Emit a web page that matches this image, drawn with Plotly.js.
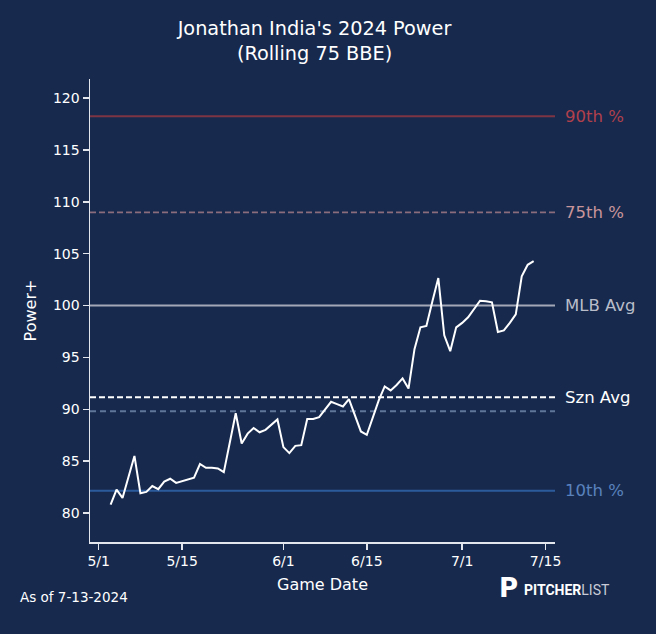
<!DOCTYPE html>
<html>
<head>
<meta charset="utf-8">
<script src="https://cdn.plot.ly/plotly-3.0.1.min.js"></script>
<style>
html,body{margin:0;padding:0;background:#172a4e;}
#chart{width:656px;height:634px;}
</style>
</head>
<body>
<div id="chart"></div>
<script>
// ---- data ----
var gameDates = ['2024-05-03','2024-05-04','2024-05-05','2024-05-07','2024-05-08','2024-05-09','2024-05-10','2024-05-11','2024-05-12','2024-05-13','2024-05-14','2024-05-17','2024-05-18','2024-05-19','2024-05-20','2024-05-21','2024-05-22','2024-05-24','2024-05-25','2024-05-26','2024-05-27','2024-05-28','2024-05-29','2024-05-30','2024-05-31','2024-06-01','2024-06-02','2024-06-03','2024-06-04','2024-06-05','2024-06-06','2024-06-07','2024-06-08','2024-06-09','2024-06-10','2024-06-11','2024-06-12','2024-06-13','2024-06-14','2024-06-15','2024-06-16','2024-06-17','2024-06-18','2024-06-19','2024-06-20','2024-06-21','2024-06-22','2024-06-23','2024-06-24','2024-06-25','2024-06-26','2024-06-27','2024-06-28','2024-06-29','2024-06-30','2024-07-01','2024-07-02','2024-07-03','2024-07-04','2024-07-05','2024-07-06','2024-07-07','2024-07-08','2024-07-09','2024-07-10','2024-07-11','2024-07-12','2024-07-13'];
var powerPlus = [80.8,82.25,81.45,85.5,81.9,82.03,82.6,82.3,83.03,83.3,82.9,83.4,84.72,84.35,84.35,84.3,83.93,89.62,86.7,87.65,88.2,87.78,88.02,88.5,89.02,86.35,85.77,86.47,86.54,89.06,89.06,89.24,89.95,90.72,90.5,90.27,90.97,89.47,87.86,87.54,89.2,90.85,92.2,91.82,92.34,92.98,92.0,95.8,97.9,98.04,100.4,102.65,97.13,95.6,97.9,98.33,98.87,99.68,100.47,100.42,100.32,97.46,97.6,98.33,99.15,102.83,103.93,104.28];

var refLabels = ['90th %','75th %','MLB Avg','Szn Avg','','10th %'];
var refValues = [118.26, 108.99, 100.0, 91.15, 89.8, 82.15];
var refLineColors = ['#7e3443','#8a6c7c','#a4a8b6','#ffffff','#5f7699','#2c5b9c'];
var refTextColors = ['#b0404b','#c9959a','#b9bdc9','#ffffff','#ffffff','#5a82bd'];
var refDash = ['solid','6px,3px','solid','6px,3px','6px,4px','solid'];
var refWidth = [2,1.7,2,2,2,2];

var tickDates = ['2024-05-01','2024-05-15','2024-06-01','2024-06-15','2024-07-01','2024-07-15'];
var tickLabels = ['5/1','5/15','6/1','6/15','7/1','7/15'];
var yTicks = [80,85,90,95,100,105,110,115,120];

// ---- chart ----
var font = 'DejaVu Sans, sans-serif';
var shapes = [];
var annotations = [];
for (var i = 0; i < refValues.length; i++) {
  shapes.push({type:'line', xref:'paper', yref:'y', x0:0, x1:1, y0:refValues[i], y1:refValues[i],
    line:{color:refLineColors[i], width:refWidth[i], dash:refDash[i]}, layer:'below'});
  if (refLabels[i]) {
    annotations.push({xref:'paper', yref:'y', x:1, y:refValues[i], xanchor:'left', yanchor:'middle',
      xshift:8, text:refLabels[i], showarrow:false, font:{family:font, size:16.5, color:refTextColors[i]}});
  }
}
annotations.push({xref:'paper', yref:'paper', x:-0.155, y:-0.119, xanchor:'left', yanchor:'middle',
  text:'As of 7-13-2024', showarrow:false, font:{family:font, size:13.5, color:'#ffffff'}});
annotations.push({xref:'paper', yref:'paper', x:0.875, y:-0.099, xanchor:'left', yanchor:'middle',
  text:'<b>P</b>', showarrow:false, font:{family:'DejaVu Sans, sans-serif', size:26, color:'#ffffff'}});
annotations.push({xref:'paper', yref:'paper', x:0.928, y:-0.104, xanchor:'left', yanchor:'middle',
  text:'<b>PITCHER</b><span style="color:#c9ccd6">LIST</span>', showarrow:false, font:{family:'Roboto, sans-serif', size:14, color:'#ffffff'}});

var trace = {
  x: gameDates, y: powerPlus, type:'scatter', mode:'lines',
  line:{color:'#ffffff', width:2}, hoverinfo:'skip'
};

var layout = {
  width:656, height:634,
  paper_bgcolor:'#172a4e', plot_bgcolor:'#172a4e',
  margin:{l:90, r:101, t:79, b:92},
  showlegend:false,
  title:{text:"Jonathan India's 2024 Power<br>(Rolling 75 BBE)", x:0.4795, xanchor:'center', y:0.945, yanchor:'top',
    font:{family:font, size:19.3, color:'#ffffff'}},
  xaxis:{type:'date', range:['2024-04-29 13:00','2024-07-16 14:00'],
    tickmode:'array', tickvals:tickDates, ticktext:tickLabels,
    showgrid:false, zeroline:false, showline:true, linecolor:'#e4e6ee', linewidth:1.5,
    ticks:'outside', ticklen:6, tickwidth:1.5, tickcolor:'#e4e6ee',
    tickfont:{family:font, size:14, color:'#ffffff'},
    title:{text:'Game Date', font:{family:font, size:16, color:'#ffffff'}, standoff:10}},
  yaxis:{range:[77.2,121.85], tickmode:'array', tickvals:yTicks,
    showgrid:false, zeroline:false, showline:true, linecolor:'#e4e6ee', linewidth:1.5,
    ticks:'outside', ticklen:6, tickwidth:1.5, tickcolor:'#e4e6ee',
    tickfont:{family:font, size:14, color:'#ffffff'},
    title:{text:'Power+', font:{family:font, size:16, color:'#ffffff'}, standoff:12}},
  shapes:shapes, annotations:annotations
};

Plotly.newPlot('chart', [trace], layout, {displayModeBar:false, staticPlot:true});
</script>
</body>
</html>
